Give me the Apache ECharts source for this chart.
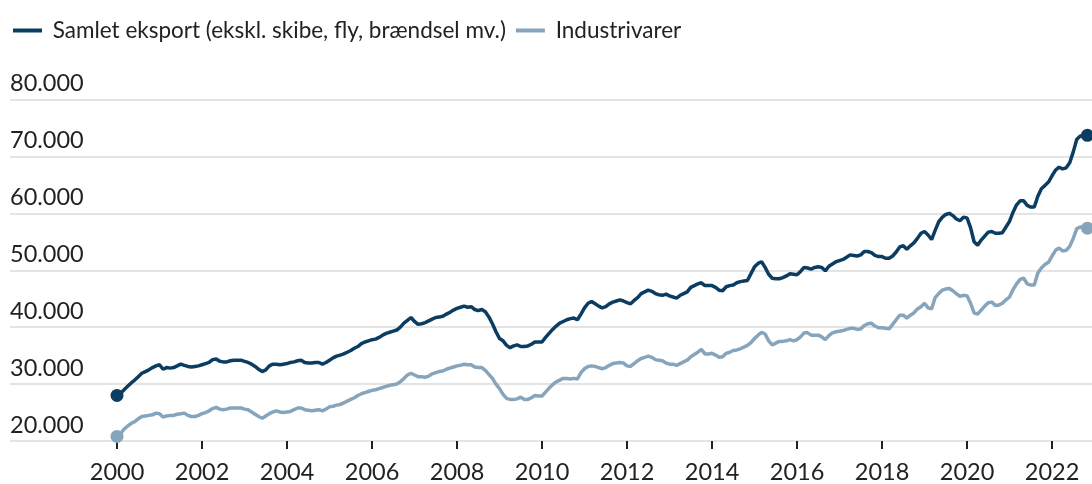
<!DOCTYPE html>
<html>
<head>
    <meta charset="utf-8">
    <title>Eksport</title>
    <script type="text/javascript" src="https://cdn.jsdelivr.net/npm/echarts@6/dist/echarts.min.js"></script>
    <style type="text/css">
        html, body { margin: 0; padding: 0; background: #fff; }
        #main { width: 1092px; height: 484px; }
    </style>
</head>
<body>
<div id="main"></div>

<script type="text/javascript">
    // monthly values, januar 2000 -> november 2022
    var startYear = 2000;
    var samletEksport = [
        28000,28400,29000,29600,30200,30700,31300,31900,32200,32500,32900,33200,
        33400,32600,32900,32800,32900,33200,33500,33300,33100,33000,33100,33200,
        33400,33600,33800,34300,34400,34000,33900,33900,34100,34200,34200,34200,
        34000,33800,33500,33100,32600,32200,32500,33200,33500,33500,33400,33500,
        33600,33800,33900,34100,34200,33800,33700,33700,33800,33800,33500,33800,
        34200,34600,34900,35100,35300,35600,35900,36300,36600,37100,37400,37600,
        37800,37900,38200,38600,38900,39100,39300,39500,40000,40700,41200,41700,
        41000,40500,40600,40800,41100,41400,41700,41800,41900,42300,42600,43000,
        43300,43500,43700,43500,43600,43100,42900,43100,42700,41800,40600,39200,
        38000,37600,36800,36400,36700,36900,36600,36600,36700,37000,37400,37400,
        37400,38200,38900,39600,40200,40700,41000,41300,41500,41600,41300,42300,
        43400,44200,44500,44100,43700,43400,43600,44100,44400,44600,44800,44600,
        44300,44100,44700,45200,45900,46200,46500,46300,45900,45700,45600,45800,
        45500,45300,45100,45600,45900,46200,47000,47300,47600,47800,47300,47300,
        47300,47000,46500,46400,47100,47300,47400,47800,48000,48100,48200,49400,
        50600,51200,51500,50500,49300,48600,48500,48500,48700,49000,49400,49300,
        49200,49800,50500,50400,50200,50500,50600,50500,49900,50700,51100,51500,
        51700,51900,52300,52700,52600,52500,52700,53300,53300,53100,52600,52400,
        52400,52100,52100,52500,53200,54100,54300,53700,54300,54800,55600,56500,
        56800,56200,55400,57000,58500,59300,59800,60000,59600,59000,58700,59300,
        59200,57500,55000,54400,55300,56000,56700,56800,56500,56500,56600,57600,
        58600,60200,61500,62200,62200,61400,61100,61100,63000,64300,64900,65500,
        66600,67600,68100,67800,68000,68900,70800,73000,73600,73600,73700
    ];
    var industrivarer = [
        20800,21300,22100,22600,23100,23400,23900,24300,24400,24500,24600,24900,
        24800,24200,24400,24500,24500,24700,24800,24900,24500,24300,24300,24500,
        24800,25000,25300,25700,25900,25600,25500,25600,25800,25800,25800,25800,
        25600,25500,25100,24700,24300,24000,24400,24800,25100,25300,25100,25000,
        25100,25200,25500,25800,25800,25500,25400,25300,25400,25500,25300,25600,
        26000,26100,26300,26400,26700,27000,27300,27600,28000,28300,28500,28700,
        28900,29000,29200,29400,29600,29800,29900,30000,30400,31000,31600,31900,
        31600,31300,31300,31200,31400,31800,32000,32200,32300,32600,32800,33000,
        33200,33300,33500,33400,33400,33000,32900,32900,32400,31700,31000,30000,
        29200,28200,27500,27300,27300,27400,27700,27300,27300,27600,28000,27900,
        27900,28600,29300,29900,30400,30700,31000,31000,30900,31000,30900,32000,
        32700,33100,33200,33100,32900,32700,32900,33300,33600,33700,33800,33700,
        33200,33100,33600,34100,34500,34700,34900,34700,34300,34200,34100,33700,
        33500,33500,33300,33600,33900,34200,34800,35200,35600,36100,35300,35300,
        35400,35100,34700,34800,35400,35600,35900,36000,36200,36500,36800,37300,
        38000,38600,39100,38800,37600,36900,37200,37500,37500,37600,37800,37600,
        37800,38300,39000,39000,38600,38600,38600,38300,37800,38500,39000,39200,
        39300,39400,39600,39800,39800,39600,39700,40300,40600,40700,40200,39900,
        39900,39800,39700,40500,41300,42100,42100,41600,42100,42500,43200,43600,
        44200,43400,43200,45200,45900,46500,46700,46800,46400,45900,45400,45600,
        45500,44200,42500,42300,43000,43700,44300,44400,43800,43900,44200,44800,
        45300,46600,47600,48400,48600,47600,47400,47400,49500,50400,51000,51400,
        52500,53500,53900,53400,53500,54200,55600,57300,57600,57500,57400
    ];
    var yearTicks = [2000,2002,2004,2006,2008,2010,2012,2014,2016,2018,2020,2022];
    var yTicks = [20000,30000,40000,50000,60000,70000,80000];

    var darkBlue = '#0b3c61';
    var lightBlue = '#86a5bc';

    function toPairs(arr) {
        return arr.map(function (v, i) { return [startYear + i / 12, v]; });
    }
    function ends(arr) {
        var p = toPairs(arr);
        return [p[0], p[p.length - 1]];
    }
    function fmt(v) {
        return String(v).replace(/\B(?=(\d{3})+(?!\d))/g, '.');
    }

    var myChart = echarts.init(document.getElementById('main'));

    var option = {
        animation: false,
        textStyle: { fontFamily: 'Lato', color: '#222' },
        legend: {
            left: 8,
            top: 14,
            itemWidth: 29,
            itemHeight: 4,
            itemGap: 10,
            icon: 'rect',
            data: ['Samlet eksport (ekskl. skibe, fly, brændsel mv.)', 'Industrivarer'],
            formatter: function (name) { return ' ' + name; },
            textStyle: { fontSize: 22.5, color: '#222', fontFamily: 'Lato' }
        },
        grid: {
            left: 10,
            right: 0,
            top: 99.5,
            bottom: 43
        },
        xAxis: {
            type: 'value',
            min: 1997.482,
            max: 2022.941,
            axisLine: { show: false },
            splitLine: { show: false },
            axisTick: {
                show: true,
                customValues: yearTicks,
                length: 8,
                lineStyle: { color: '#222', width: 2 }
            },
            axisLabel: {
                customValues: yearTicks,
                formatter: function (v) { return String(Math.round(v)); },
                fontSize: 23.5,
                color: '#222',
                margin: 19
            }
        },
        yAxis: {
            type: 'value',
            min: yTicks[0],
            max: yTicks[yTicks.length - 1],
            interval: 10000,
            axisLine: { show: false },
            axisTick: { show: false },
            splitLine: { lineStyle: { color: '#e4e4e4', width: 2 } },
            axisLabel: {
                inside: true,
                margin: 0,
                verticalAlign: 'bottom',
                lineHeight: 24,
                padding: [0, 0, 4, 0],
                fontSize: 23.5,
                color: '#222',
                formatter: fmt
            }
        },
        series: [
            {
                name: 'Samlet eksport (ekskl. skibe, fly, brændsel mv.)',
                type: 'line',
                data: toPairs(samletEksport),
                showSymbol: false,
                color: darkBlue,
                lineStyle: { width: 3.5, color: darkBlue }
            },
            {
                name: 'Industrivarer',
                type: 'line',
                data: toPairs(industrivarer),
                showSymbol: false,
                color: lightBlue,
                lineStyle: { width: 3.5, color: lightBlue }
            },
            {
                type: 'scatter',
                data: ends(samletEksport),
                symbolSize: 13,
                itemStyle: { color: darkBlue, opacity: 1 },
                z: 5
            },
            {
                type: 'scatter',
                data: ends(industrivarer),
                symbolSize: 13,
                itemStyle: { color: lightBlue, opacity: 1 },
                z: 5
            }
        ]
    };

    myChart.setOption(option);
</script>
</body>
</html>
